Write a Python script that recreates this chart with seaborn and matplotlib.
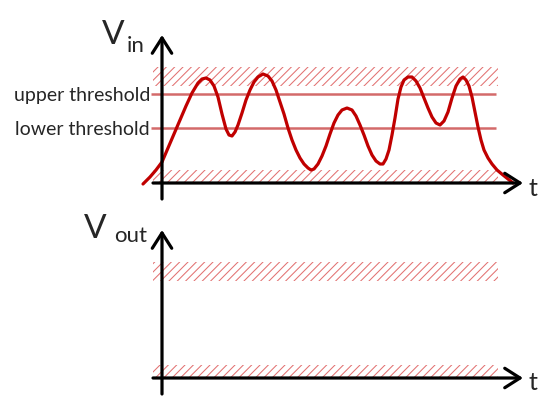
import numpy as np
import matplotlib.pyplot as plt
import seaborn as sns; sns.set_style('white')

plt.rcParams['font.family'] = ['Lato', 'DejaVu Sans']
plt.rcParams['hatch.linewidth'] = 0.75
plt.rcParams['hatch.color'] = '#e27272'

# input signal (time units, voltage units)
t = [-19, -12, -6, 0, 6, 12, 18, 24, 30, 36,
     40, 44, 48, 52, 56, 60, 64, 67, 70, 73,
     76, 80, 84, 88, 92, 96, 101, 106, 110, 114,
     118, 122, 126, 130, 134, 138, 142, 146, 149, 152,
     156, 160, 164, 168, 172, 176, 180, 185, 190, 194,
     198, 202, 206, 210, 214, 218, 221, 224, 227, 230,
     233, 236, 239, 242, 246, 250, 254, 258, 262, 266,
     270, 274, 278, 282, 286, 290, 294, 298, 301, 304,
     307, 310, 313, 316, 319, 322, 326, 330, 335, 341,
     346, 351]
vin = [-1, 6, 13, 21, 35, 49, 63, 77, 90, 100,
       104, 105, 103, 97, 86, 69, 54, 48, 47, 51,
       58, 70, 83, 93, 101, 106, 109, 107, 102, 93,
       81, 69, 55, 43, 33, 25, 19, 15, 13, 14,
       19, 27, 37, 49, 60, 68, 73, 75, 73, 67,
       58, 48, 37, 28, 22, 19, 19, 24, 33, 48,
       65, 84, 96, 103, 106, 106, 102, 95, 85, 75,
       66, 60, 58, 62, 71, 85, 97, 104, 106, 103,
       97, 86, 71, 56, 43, 33, 25, 19, 13, 8,
       4, 0]

thresholds = {'upper threshold': 89, 'lower threshold': 55}
high_band = (97, 116)
low_band = (0, 13)
band_t = (-9, 336)
t_end = 361

fig = plt.figure(figsize=(5.52, 4.12), dpi=100)
ax_in = fig.add_axes([0, 0.5, 1, 0.5])
ax_out = fig.add_axes([0, 0, 1, 0.5])
ax_in.set_xlim(-162, 390); ax_in.set_ylim(-23, 183)
ax_out.set_xlim(-162, 390); ax_out.set_ylim(-34, 172)

for ax in (ax_in, ax_out):
    ax.set_axis_off()
    for lo, hi in (high_band, low_band):
        ax.fill_between(band_t, lo, hi, facecolor='none', edgecolor='#e27272',
                        hatch='////', linewidth=0, zorder=1)
    arrow = dict(arrowstyle='->, head_length=0.55, head_width=0.35', lw=2.3,
                 color='black', shrinkA=0, shrinkB=0, mutation_scale=20)
    ax.annotate('', xy=(t_end, 0), xytext=(band_t[0], 0), arrowprops=arrow, zorder=4)
    ax.annotate('', xy=(0, 148), xytext=(0, -16), arrowprops=arrow, zorder=4)
    ax.text(t_end + 10, -5, 't', fontsize=18, ha='center', va='center')

for name, v in thresholds.items():
    ax_in.hlines(v, -11, 334, color='#cc5050', lw=1.8, alpha=0.85, zorder=2)
    ax_in.text(-12, v, name, fontsize=14, ha='right', va='center_baseline')

sns.lineplot(x=t, y=vin, ax=ax_in, color='#c00000', lw=2.3, zorder=3)

ax_in.text(-37, 139, 'V', fontsize=24, ha='right', va='baseline')
ax_in.text(-35, 131, 'in', fontsize=16, ha='left', va='baseline')
ax_out.text(-55, 140, 'V', fontsize=24, ha='right', va='baseline')
ax_out.text(-48, 136, 'out', fontsize=16, ha='left', va='baseline')

fig.savefig('out.png', dpi=100)
